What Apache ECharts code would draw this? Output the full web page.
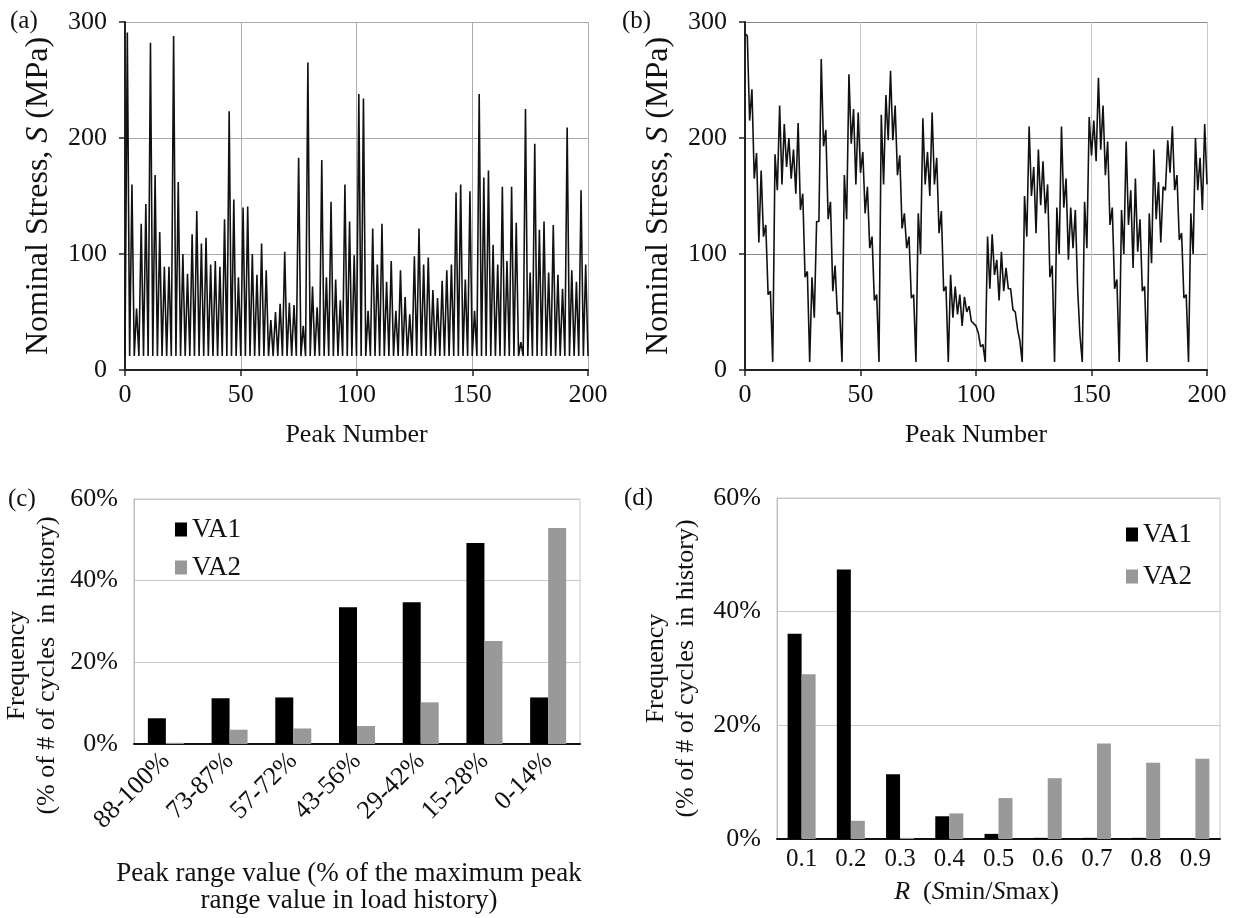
<!DOCTYPE html>
<html>
<head>
<meta charset="utf-8">
<script src="https://cdn.jsdelivr.net/npm/echarts@6/dist/echarts.min.js"></script>
<style>
  html, body { margin: 0; background: #fff; }
  #chart { width: 1238px; height: 918px; }
</style>
</head>
<body>
<div id="chart"></div>
<script>
  // (a) VA1 load history, nominal stress per peak number (MPa)
  const stressA = [
    12, 291, 12, 160, 12, 53, 12, 126, 12, 143, 12, 282, 12, 168, 12, 119, 12, 89, 12, 89,
    12, 288, 12, 162, 12, 100, 12, 83, 12, 117, 12, 137, 12, 109, 12, 114, 12, 91, 12, 94,
    12, 89, 12, 130, 12, 223, 12, 147, 12, 80, 12, 140, 12, 141, 12, 100, 12, 82, 12, 109,
    12, 86, 12, 43, 12, 50, 12, 57, 12, 102, 12, 58, 12, 56, 12, 183, 12, 38, 12, 265,
    12, 72, 12, 54, 12, 181, 12, 80, 12, 145, 12, 78, 12, 60, 12, 160, 12, 128, 12, 99,
    12, 238, 12, 234, 12, 51, 12, 122, 12, 91, 12, 126, 12, 76, 12, 94, 12, 51, 12, 86,
    12, 63, 12, 48, 12, 98, 12, 122, 12, 91, 12, 97, 12, 69, 12, 62, 12, 77, 12, 86,
    12, 91, 12, 153, 12, 160, 12, 78, 12, 154, 12, 51, 12, 238, 12, 166, 12, 172, 12, 108,
    12, 91, 12, 158, 12, 94, 12, 158, 12, 127, 12, 24, 12, 225, 12, 84, 12, 195, 12, 121,
    12, 128, 12, 84, 12, 125, 12, 82, 12, 70, 12, 209, 12, 86, 12, 76, 12, 155, 12, 91,
    12
  ];

  // (b) VA2 load history
  const stressB = [
    290, 288, 215, 242, 165, 187, 110, 172, 115, 125, 65, 68, 7,
    186, 155, 228, 160, 212, 175, 200, 165, 190, 152, 213, 138, 152, 80, 85, 7,
    80, 45, 128, 128, 268, 193, 207, 130, 145, 68, 90, 48, 50, 7,
    168, 130, 255, 195, 225, 160, 222, 170, 188, 135, 158, 105, 115, 60, 65, 7,
    220, 160, 237, 198, 258, 198, 228, 168, 185, 122, 135, 105, 115, 62, 65, 7,
    135, 100, 217, 160, 188, 150, 222, 160, 183, 118, 137, 68, 72, 7,
    82, 45, 72, 48, 65, 38, 63, 50, 55, 42, 40, 38, 32, 20, 22, 7,
    115, 70, 117, 82, 95, 60, 102, 68, 88, 70, 70, 52, 50, 35, 25, 7,
    150, 115, 210, 150, 175, 118, 190, 142, 180, 135, 160, 80, 90, 7,
    140, 100, 210, 140, 165, 95, 140, 105, 138, 70, 30, 7,
    145, 105, 218, 185, 215, 180, 252, 190, 228, 168, 197, 125, 140, 70, 78, 7,
    138, 100, 197, 125, 155, 88, 165, 102, 130, 68, 72, 7,
    135, 92, 190, 130, 162, 110, 158, 155, 198, 170, 210, 155, 168, 112, 118, 62, 65, 7,
    135, 100, 200, 155, 183, 138, 212, 160
  ];

  // (c) peak range distribution (% of cycles)
  const rangeBins = ['88-100%', '73-87%', '57-72%', '43-56%', '29-42%', '15-28%', '0-14%'];
  const rangeVA1 = [6.3, 11.2, 11.4, 33.5, 34.7, 49.2, 11.4];
  const rangeVA2 = [0.3, 3.5, 3.8, 4.4, 10.2, 25.2, 52.9];

  // (d) R ratio distribution (% of cycles)
  const rBins = ['0.1', '0.2', '0.3', '0.4', '0.5', '0.6', '0.7', '0.8', '0.9'];
  const rVA1 = [36.1, 47.4, 11.4, 4.0, 0.9, 0.2, 0.2, 0.2, 0];
  const rVA2 = [29.0, 3.2, 0.2, 4.5, 7.2, 10.7, 16.8, 13.4, 14.1];

  const FONT = '"Liberation Serif", "Times New Roman", serif';
  const INK = '#111';

  const chart = echarts.init(document.getElementById('chart'));

  function stressX(gi) {
    return {
      gridIndex: gi, type: 'value', min: 0, max: 200, interval: 50,
      axisLine: { show: true, onZero: false, lineStyle: { color: '#222', width: 2 } },
      axisTick: { show: true, length: 6, lineStyle: { color: '#222', width: 1.5 } },
      axisLabel: { color: INK, fontSize: 26, fontFamily: FONT, margin: 12 },
      splitLine: { show: true, lineStyle: { color: gi === 0 ? '#aaa' : '#c8c8c8' } },
      name: 'Peak Number', nameLocation: 'middle', nameGap: 52,
      nameTextStyle: { color: INK, fontSize: 26, fontFamily: FONT }
    };
  }

  function stressY(gi) {
    return {
      gridIndex: gi, type: 'value', min: 0, max: 300, interval: 100,
      axisLine: { show: true, lineStyle: { color: '#222', width: 2 } },
      axisTick: { show: true, length: 6, lineStyle: { color: '#222', width: 1.5 } },
      axisLabel: { color: INK, fontSize: 26, fontFamily: FONT, margin: 18 },
      splitLine: { show: true, lineStyle: { color: gi === 0 ? '#aaa' : '#888' } },
      name: 'Nominal Stress, {i|S} (MPa)', nameLocation: 'middle', nameGap: 70, nameRotate: 90,
      nameTextStyle: {
        color: INK, fontSize: 32, fontFamily: FONT,
        rich: { i: { fontStyle: 'italic', fontSize: 32, fontFamily: FONT, color: INK } }
      }
    };
  }

  function freqY(gi, gap, shift) {
    return {
      gridIndex: gi, type: 'value', min: 0, max: 60, interval: 20,
      axisLine: { show: true, lineStyle: { color: '#bbb', width: 1 } },
      axisTick: { show: false },
      axisLabel: { color: INK, fontSize: 26, fontFamily: FONT, margin: 16, formatter: '{value}%' },
      splitLine: { show: true, lineStyle: { color: '#c8c8c8' } },
      name: 'Frequency\n(% of # of cycles  in history)', nameLocation: 'middle', nameGap: gap, nameRotate: 90,
      nameTextStyle: { color: INK, fontSize: 26, fontFamily: FONT, lineHeight: 30, padding: [0, shift, 0, 0] }
    };
  }

  const legendBase = {
    data: ['VA1', 'VA2'], orient: 'vertical', icon: 'rect',
    itemWidth: 12, itemHeight: 14,
    textStyle: { color: INK, fontSize: 27, fontFamily: FONT }
  };

  chart.setOption({
    animation: false,
    backgroundColor: '#fff',
    grid: [
      { left: 125, top: 22, width: 463, height: 348 },
      { left: 745, top: 22, width: 462, height: 348 },
      { left: 134, top: 499, width: 446, height: 245, show: true, borderColor: '#c8c8c8', borderWidth: 1 },
      { left: 777, top: 498, width: 443, height: 341, show: true, borderColor: '#c8c8c8', borderWidth: 1 }
    ],
    xAxis: [
      stressX(0),
      stressX(1),
      {
        gridIndex: 2, type: 'category', data: rangeBins,
        axisLine: { show: true, lineStyle: { color: '#111', width: 2 } },
        axisTick: { show: false },
        axisLabel: { color: INK, fontSize: 26, fontFamily: FONT, rotate: 45, interval: 0, margin: 13 },
        name: 'Peak range value (% of the maximum peak\nrange value in load history)',
        nameLocation: 'middle', nameGap: 116,
        nameTextStyle: { color: INK, fontSize: 27, fontFamily: FONT, lineHeight: 27, padding: [0, 16, 0, 0] }
      },
      {
        gridIndex: 3, type: 'category', data: rBins,
        axisLine: { show: true, lineStyle: { color: '#111', width: 2 } },
        axisTick: { show: false },
        axisLabel: { color: INK, fontSize: 25, fontFamily: FONT, interval: 0, margin: 8 },
        name: '{i|R}  ({i|S}min/{i|S}max)', nameLocation: 'middle', nameGap: 40,
        nameTextStyle: {
          color: INK, fontSize: 26, fontFamily: FONT, padding: [0, 44, 0, 0],
          rich: { i: { fontStyle: 'italic', fontSize: 26, fontFamily: FONT, color: INK } }
        }
      }
    ],
    yAxis: [stressY(0), stressY(1), freqY(2, 72, 88), freqY(3, 76, 0)],
    legend: [
      Object.assign({}, legendBase, { left: 170, top: 511, itemGap: 11 }),
      Object.assign({}, legendBase, { left: 1121, top: 516, itemGap: 15 })
    ],
    series: [
      {
        type: 'line', xAxisIndex: 0, yAxisIndex: 0, symbol: 'none',
        lineStyle: { color: '#111', width: 1.6 },
        data: stressA.map((v, i) => [i, v])
      },
      {
        type: 'line', xAxisIndex: 1, yAxisIndex: 1, symbol: 'none',
        lineStyle: { color: '#111', width: 1.6 },
        data: stressB.map((v, i) => [i, v])
      },
      { name: 'VA1', type: 'bar', xAxisIndex: 2, yAxisIndex: 2, barWidth: 18, barGap: '0%', itemStyle: { color: '#000' }, data: rangeVA1 },
      { name: 'VA2', type: 'bar', xAxisIndex: 2, yAxisIndex: 2, barWidth: 18, barGap: '0%', itemStyle: { color: '#999' }, data: rangeVA2 },
      { name: 'VA1', type: 'bar', xAxisIndex: 3, yAxisIndex: 3, barWidth: 14, barGap: '0%', itemStyle: { color: '#000' }, data: rVA1 },
      { name: 'VA2', type: 'bar', xAxisIndex: 3, yAxisIndex: 3, barWidth: 14, barGap: '0%', itemStyle: { color: '#999' }, data: rVA2 }
    ],
    graphic: [
      { type: 'text', left: 10, top: 9, style: { text: '(a)', font: '25px ' + FONT, fill: INK } },
      { type: 'text', left: 622, top: 9, style: { text: '(b)', font: '25px ' + FONT, fill: INK } },
      { type: 'text', left: 8, top: 487, style: { text: '(c)', font: '25px ' + FONT, fill: INK } },
      { type: 'text', left: 624, top: 486, style: { text: '(d)', font: '25px ' + FONT, fill: INK } }
    ]
  });
</script>
</body>
</html>
